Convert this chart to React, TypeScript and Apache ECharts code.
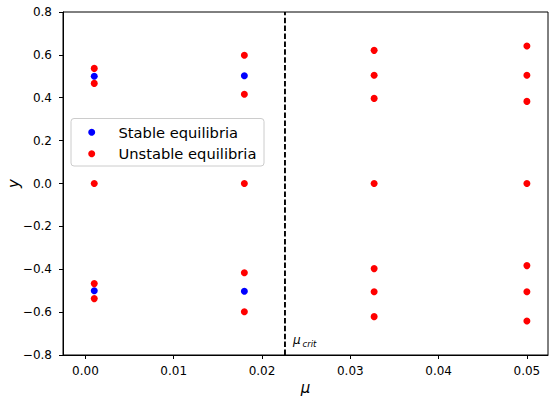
import React, { useEffect, useRef } from "react";
import * as echarts from "echarts";

const muValues = [0.001, 0.018, 0.0327, 0.05];
const stableY: number[][] = [
  [0.5, -0.5],
  [0.503, -0.503],
  [],
  [],
];
const unstableY: number[][] = [
  [0.537, 0.467, 0, -0.467, -0.537],
  [0.598, 0.416, 0, -0.416, -0.598],
  [0.621, 0.505, 0.397, 0, -0.397, -0.505, -0.621],
  [0.641, 0.505, 0.383, 0, -0.383, -0.505, -0.641],
];
const muCrit = 0.0226;
const xTicks = [0, 0.01, 0.02, 0.03, 0.04, 0.05];
const xRange = [-0.00254, 0.05239];
const yRange = [-0.8, 0.8];
const seriesNames = ["Stable equilibria", "Unstable equilibria"];

const FONT = "DejaVu Sans";

function toPoints(ys: number[][]): number[][] {
  const pts: number[][] = [];
  ys.forEach((col, i) => col.forEach((y) => pts.push([muValues[i], y])));
  return pts;
}

export default function App() {
  const ref = useRef<HTMLDivElement>(null);
  useEffect(() => {
    if (!ref.current) return;
    const chart = echarts.init(ref.current, null, { renderer: "svg" });
    const fmt = (v: number, d: number) => {
      const s = Math.abs(v) < 1e-9 ? (0).toFixed(d) : v.toFixed(d);
      return s.replace("-", "\u2212");
    };
    chart.setOption({
      animation: false,
      backgroundColor: "#ffffff",
      grid: {
        left: 63,
        top: 12,
        width: 485,
        height: 343,
        containLabel: false,
        outerBoundsMode: "none",
        show: true,
        borderColor: "#000",
        borderWidth: 1,
        backgroundColor: "transparent",
      },
      xAxis: {
        type: "value",
        min: xRange[0],
        max: xRange[1],
        splitLine: { show: false },
        axisLine: { show: true, onZero: false, lineStyle: { color: "#000", width: 1 } },
        axisTick: {
          show: true,
          length: 4,
          customValues: xTicks,
          lineStyle: { color: "#000", width: 1 },
        },
        axisLabel: {
          customValues: xTicks,
          formatter: (v: number) => fmt(v, 2),
          color: "#000",
          fontFamily: FONT,
          fontSize: 12,
          margin: 10,
        },
        name: "\u03bc",
        nameLocation: "middle",
        nameGap: 25,
        nameMoveOverlap: false,
        nameTextStyle: {
          fontFamily: FONT,
          fontStyle: "italic",
          fontSize: 15,
          color: "#000",
        },
      },
      yAxis: {
        type: "value",
        min: yRange[0],
        max: yRange[1],
        interval: 0.2,
        splitLine: { show: false },
        axisLine: { show: true, onZero: false, lineStyle: { color: "#000", width: 1 } },
        axisTick: { show: true, length: 4, lineStyle: { color: "#000", width: 1 } },
        axisLabel: {
          formatter: (v: number) => fmt(v, 1),
          color: "#000",
          fontFamily: FONT,
          fontSize: 12,
          margin: 11,
        },
        name: "y",
        nameLocation: "middle",
        nameGap: 42,
        nameMoveOverlap: false,
        nameRotate: 90,
        nameTextStyle: {
          fontFamily: FONT,
          fontStyle: "italic",
          fontSize: 15,
          color: "#000",
        },
      },
      series: [
        {
          name: "mu_crit",
          type: "line",
          data: [
            [muCrit, yRange[0]],
            [muCrit, yRange[1]],
          ],
          symbol: "none",
          silent: true,
          lineStyle: { color: "#000", type: [5.5, 2.4], width: 1.9 },
          z: 1,
        },
        {
          name: seriesNames[0],
          type: "scatter",
          symbol: "circle",
          symbolSize: 7,
          itemStyle: { color: "#0000ff", opacity: 1 },
          data: toPoints(stableY),
          z: 2,
        },
        {
          name: seriesNames[1],
          type: "scatter",
          symbol: "circle",
          symbolSize: 7,
          itemStyle: { color: "#ff0000", opacity: 1 },
          data: toPoints(unstableY),
          z: 3,
        },
      ],
      graphic: [
        {
          type: "rect",
          shape: { x: 71, y: 118.5, width: 193, height: 47.5, r: 3 },
          style: { fill: "rgba(255,255,255,0.8)", stroke: "#cccccc", lineWidth: 1 },
          z: 10,
        },
        {
          type: "circle",
          shape: { cx: 91.7, cy: 132.3, r: 3.5 },
          style: { fill: "#0000ff" },
          z: 11,
        },
        {
          type: "circle",
          shape: { cx: 91.7, cy: 153.7, r: 3.5 },
          style: { fill: "#ff0000" },
          z: 11,
        },
        {
          type: "text",
          x: 118.5,
          y: 132.3,
          style: {
            text: seriesNames[0],
            fontFamily: FONT,
            fontSize: 14.7,
            fill: "#000",
            verticalAlign: "middle",
          },
          z: 11,
        },
        {
          type: "text",
          x: 118.5,
          y: 153.7,
          style: {
            text: seriesNames[1],
            fontFamily: FONT,
            fontSize: 14.7,
            fill: "#000",
            verticalAlign: "middle",
          },
          z: 11,
        },
        {
          type: "text",
          x: 293,
          y: 340,
          style: {
            text: "\u03bc",
            fontFamily: FONT,
            fontStyle: "italic",
            fontSize: 12,
            fill: "#000",
            verticalAlign: "middle",
          },
          z: 11,
        },
        {
          type: "text",
          x: 302.5,
          y: 343.5,
          style: {
            text: "crit",
            fontFamily: FONT,
            fontStyle: "italic",
            fontSize: 8.5,
            fill: "#000",
            verticalAlign: "middle",
          },
          z: 11,
        },
      ],
    });
    return () => chart.dispose();
  }, []);
  return (
    <div
      ref={ref}
      style={{ position: "fixed", left: 0, top: 0, width: 549, height: 399, background: "#fff" }}
    />
  );
}
